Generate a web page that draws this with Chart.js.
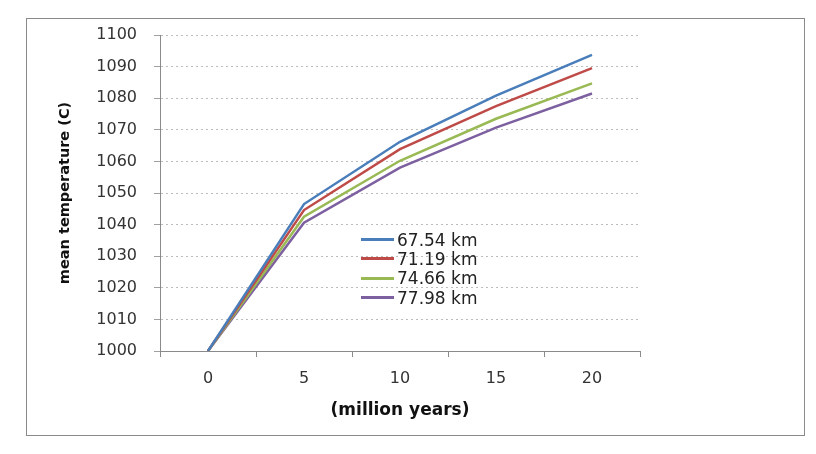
<!DOCTYPE html>
<html>
<head>
<meta charset="utf-8">
<script src="https://cdn.jsdelivr.net/npm/chart.js@4.4.0/dist/chart.umd.min.js"></script>
<style>
  html, body { margin: 0; padding: 0; background: #fff; }
  #wrap { position: relative; width: 816px; height: 454px; overflow: hidden; }
  #frame { position: absolute; left: 26px; top: 18px; width: 779px; height: 418px; border: 1px solid #8a8a8a; box-sizing: border-box; }
  canvas { position: absolute; left: 0; top: 0; }
  #legend { position: absolute; left: 361px; top: 230px; font-family: "DejaVu Sans", sans-serif; font-size: 17px; color: #222; }
  .row { display: flex; align-items: center; height: 19.3px; }
  .sw { width: 33px; height: 3px; margin-right: 3px; }
</style>
</head>
<body>
<div id="wrap">
  <div id="frame"></div>
  <canvas id="c" width="816" height="454"></canvas>
  <div id="legend"></div>
</div>
<script>
const categories = ["0", "5", "10", "15", "20"];
const seriesLabels = ["67.54 km", "71.19 km", "74.66 km", "77.98 km"];
const s6754 = [1000, 1046.5, 1066.2, 1080.8, 1093.7];
const s7119 = [1000, 1044.6, 1063.9, 1077.5, 1089.5];
const s7466 = [1000, 1042.5, 1060.2, 1073.5, 1084.7];
const s7798 = [1000, 1040.6, 1058.0, 1070.7, 1081.5];
const seriesValues = [s6754, s7119, s7466, s7798];
const colors = ["#4A7EBB", "#BE4B48", "#98B954", "#7D60A0"];
const yTitle = "mean temperature (C)";
const xTitle = "(million years)";

const datasets = seriesLabels.map((lab, i) => ({
  label: lab,
  data: seriesValues[i],
  borderColor: colors[i],
  backgroundColor: colors[i],
  borderWidth: 2.5,
  pointRadius: 0,
  tension: 0,
  fill: false
}));

new Chart(document.getElementById('c'), {
  type: 'line',
  data: { labels: categories, datasets: datasets },
  options: {
    responsive: false,
    animation: false,
    devicePixelRatio: 1,
    layout: { padding: { left: 53, right: 176, top: 35, bottom: 29 } },
    plugins: { legend: { display: false }, tooltip: { enabled: false } },
    scales: {
      x: {
        type: 'category',
        offset: true,
        grid: { display: true, offset: true, drawOnChartArea: false, drawTicks: true, tickLength: 6, tickColor: '#8a8a8a', color: '#8a8a8a' },
        border: { display: true, color: '#8a8a8a', width: 1 },
        ticks: { color: '#333', padding: 12, font: { family: 'DejaVu Sans', size: 16 }, maxRotation: 0 },
        title: { display: true, text: xTitle, color: '#111', padding: { top: 4, bottom: 4 }, font: { family: 'DejaVu Sans', size: 17, weight: 'bold' } },
        afterFit: (s) => { s.height = 74; }
      },
      y: {
        min: 1000, max: 1100,
        ticks: { stepSize: 10, color: '#333', padding: 17, font: { family: 'DejaVu Sans', size: 16 },
                 callback: (v) => String(v) },
        grid: { color: '#bcbcbc', lineWidth: 1, tickLength: 6, tickColor: '#a0a0a0' },
        border: { display: true, color: '#8a8a8a', width: 1, dash: [2, 3] },
        title: { display: true, text: yTitle, color: '#111', padding: { top: 4, bottom: 4 }, font: { family: 'DejaVu Sans', size: 14.5, weight: 'bold' } },
        afterFit: (s) => { s.width = 107; }
      }
    }
  }
});

const leg = document.getElementById('legend');
seriesLabels.forEach((lab, i) => {
  const r = document.createElement('div');
  r.className = 'row';
  const sw = document.createElement('div');
  sw.className = 'sw';
  sw.style.background = colors[i];
  const t = document.createElement('span');
  t.textContent = lab;
  r.appendChild(sw); r.appendChild(t);
  leg.appendChild(r);
});
</script>
</body>
</html>
